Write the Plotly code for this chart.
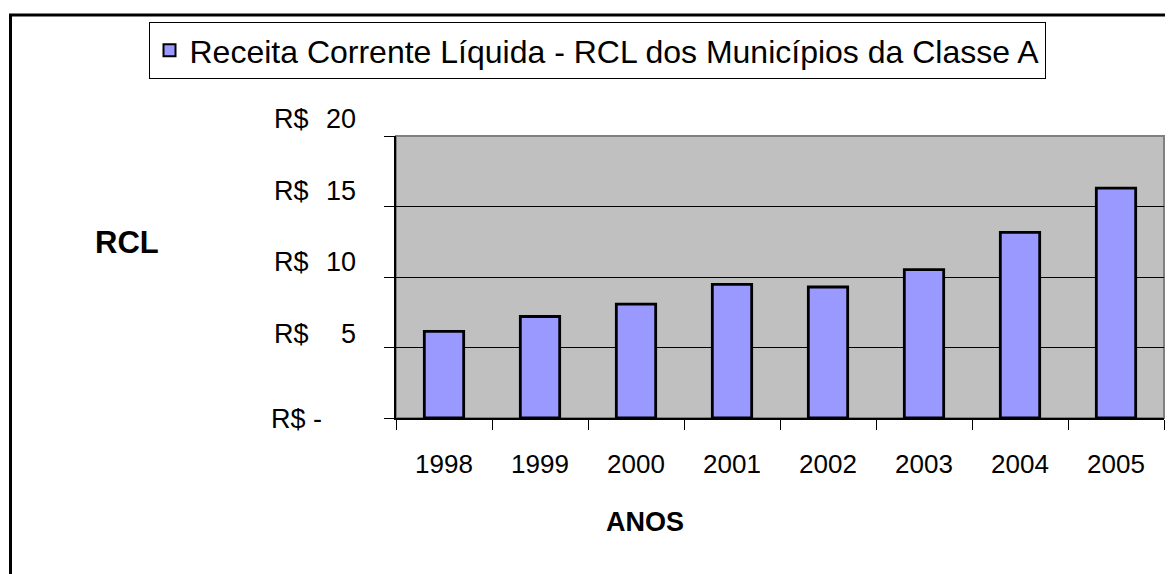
import plotly.graph_objects as go

anos = ["1998", "1999", "2000", "2001", "2002", "2003", "2004", "2005"]
rcl = [6.14, 7.2, 8.08, 9.48, 9.29, 10.52, 13.16, 16.31]
serie_nome = "Receita Corrente Líquida - RCL dos Municípios da Classe A"
y_ticks = [0, 5, 10, 15, 20]
y_tick_nums = ["-", "5", "10", "15", "20"]

# page offset (body margin) of the rendered figure
OFF = 8
PAGE_W, PAGE_H = 1173, 574
PLOT_L, PLOT_R, PLOT_T, PLOT_B = 396, 1164, 136, 418
W, H = PAGE_W - OFF, PAGE_H - OFF
L, R, T, B = PLOT_L - OFF, PAGE_W - PLOT_R, PLOT_T - OFF, PAGE_H - PLOT_B
pw, ph = PLOT_R - PLOT_L, PLOT_B - PLOT_T

def px_x(p):
    return (p - PLOT_L) / pw

def px_y(p):
    return (PLOT_B - p) / ph

FONT = "Liberation Sans, Arial, sans-serif"

fig = go.Figure()
fig.add_trace(go.Bar(
    x=anos, y=rcl, name=serie_nome,
    marker=dict(color="#9999FF", line=dict(color="black", width=2.8)),
))

annotations = []
shifts = {0: -1, 5: 14, 10: 15, 15: 16, 20: 17}
YF = dict(size=27, color="black", family=FONT)
for v, t in zip(y_ticks, y_tick_nums):
    if t == "-":
        annotations.append(dict(x=px_x(269), xref="paper", y=v, yref="y",
                                text="R$ -", showarrow=False, xanchor="left",
                                yanchor="middle", yshift=shifts[v], font=YF))
    else:
        annotations.append(dict(x=px_x(272), xref="paper", y=v, yref="y",
                                text="R$", showarrow=False, xanchor="left",
                                yanchor="middle", yshift=shifts[v], font=YF))
        annotations.append(dict(x=px_x(358), xref="paper", y=v, yref="y",
                                text=t, showarrow=False, xanchor="right",
                                yanchor="middle", yshift=shifts[v], font=YF))

annotations.append(dict(x=px_x(127), xref="paper", y=px_y(242), yref="paper",
                        text="<b>RCL</b>", showarrow=False, xanchor="center",
                        yanchor="middle", font=dict(size=31, color="black", family=FONT)))
annotations.append(dict(x=px_x(645), xref="paper", y=px_y(522), yref="paper",
                        text="<b>ANOS</b>", showarrow=False, xanchor="center",
                        yanchor="middle", font=dict(size=27, color="black", family=FONT)))

shapes = [
    dict(type="rect", xref="paper", yref="paper", x0=0, x1=1, y0=0, y1=1,
         line=dict(color="#808080", width=2), layer="below"),
    dict(type="rect", xref="paper", yref="paper", x0=px_x(10.5), x1=px_x(1300),
         y0=px_y(700), y1=px_y(15), line=dict(color="black", width=3)),
]

fig.update_layout(
    width=W, height=H,
    margin=dict(l=L, r=R, t=T, b=B, pad=0),
    paper_bgcolor="white",
    plot_bgcolor="#C0C0C0",
    bargap=0.59,
    showlegend=True,
    legend=dict(x=px_x(597), xanchor="center", y=px_y(22), yanchor="top",
                bordercolor="black", borderwidth=1, bgcolor="white",
                font=dict(size=32, color="black", family=FONT),
                itemsizing="constant"),
    annotations=annotations,
    shapes=shapes,
    font=dict(family=FONT, color="black"),
)
fig.update_xaxes(
    type="category", tickson="boundaries", ticks="outside", ticklen=10,
    tickcolor="black", tickwidth=1, showline=True, linecolor="black", linewidth=1.5,
    showgrid=False, tickfont=dict(size=26, color="black", family=FONT),
    ticklabelstandoff=22,
)
fig.update_yaxes(
    range=[0, 20], tickvals=y_ticks, showticklabels=False,
    ticks="outside", ticklen=10, tickcolor="black", tickwidth=1,
    showline=True, linecolor="black", linewidth=1.5,
    showgrid=True, gridcolor="black", gridwidth=1, zeroline=False,
)

fig.write_html("out.html")
